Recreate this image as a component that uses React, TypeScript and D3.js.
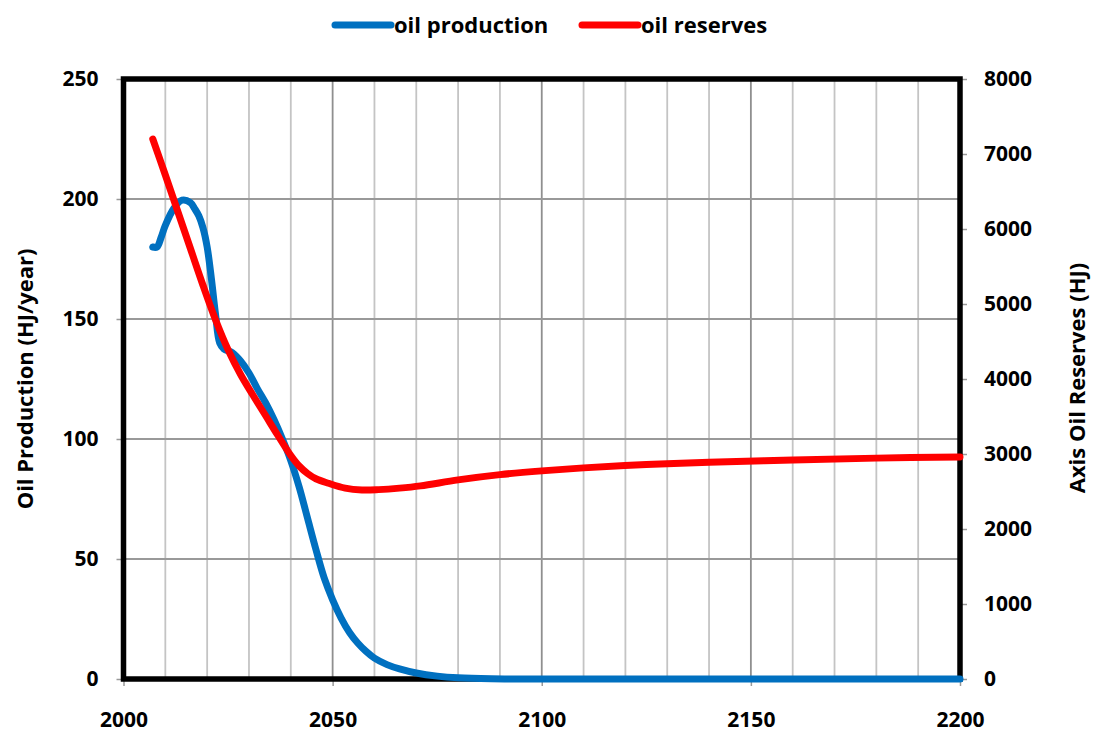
import * as d3 from 'd3';
import React, { useEffect, useRef } from 'react';

// years + values
const prodYears = [2007, 2008, 2009, 2010, 2012, 2014, 2016, 2017, 2018, 2019, 2020, 2021, 2022, 2023, 2024, 2026, 2028, 2030, 2032, 2034, 2036, 2038, 2040, 2042, 2044, 2046, 2048, 2050, 2052, 2054, 2056, 2058, 2060, 2063, 2066, 2070, 2075, 2080, 2088, 2100, 2150, 2200];
const prodValues = [180, 180, 184, 189, 196, 199.5, 198.5, 196, 193, 188, 180, 167, 152, 140, 137.5, 136, 132.5, 127.5, 121, 115, 108, 100, 91, 80, 67, 54, 42, 33, 25.5, 19.5, 15, 11.5, 8.7, 6, 4.2, 2.5, 1.2, 0.5, 0.1, 0, 0, 0];

const resYears = [2007, 2010, 2013, 2016, 2019, 2022, 2025, 2028, 2031, 2034, 2037, 2040, 2042, 2044, 2046, 2049, 2053, 2057, 2061, 2066, 2071, 2080, 2090, 2100, 2110, 2125, 2140, 2160, 2180, 2200];
const resValues = [7200, 6720, 6230, 5740, 5250, 4790, 4390, 4060, 3780, 3510, 3240, 2980, 2840, 2740, 2670, 2610, 2545, 2520, 2525, 2545, 2575, 2655, 2725, 2775, 2815, 2860, 2890, 2920, 2945, 2960];

const xTicks = [2000, 2050, 2100, 2150, 2200];
const leftTicks = [0, 50, 100, 150, 200, 250];
const rightTicks = [0, 1000, 2000, 3000, 4000, 5000, 6000, 7000, 8000];

const seriesNames = ['oil production', 'oil reserves'];
const seriesColors = ['#0070C0', '#FF0000'];

const W = 1095;
const H = 740;
const margin = { left: 123.5, right: W - 960, top: 79, bottom: H - 679 };
const FONT = '"Open Sans", Arial, sans-serif';

export default function App() {
  const ref = useRef<SVGSVGElement>(null);

  useEffect(() => {
    const svg = d3.select(ref.current);
    svg.selectAll('*').remove();

    const x = d3.scaleLinear().domain([2000, 2200]).range([margin.left, W - margin.right]);
    const yL = d3.scaleLinear().domain([0, 250]).range([H - margin.bottom, margin.top]);
    const yR = d3.scaleLinear().domain([0, 8000]).range([H - margin.bottom, margin.top]);

    // gridlines, every 10 years vertical, darker on the 50-year marks
    const grid = svg.append('g');
    grid
      .selectAll('line.v')
      .data(d3.range(2010, 2200, 10))
      .enter()
      .append('line')
      .attr('x1', (d) => x(d))
      .attr('x2', (d) => x(d))
      .attr('y1', yL(0))
      .attr('y2', yL(250))
      .attr('stroke', (d) => (d % 50 === 0 ? '#8f8f8f' : '#c4c4c4'))
      .attr('stroke-width', 1.8);
    grid
      .selectAll('line.h')
      .data([50, 100, 150, 200])
      .enter()
      .append('line')
      .attr('x1', x(2000))
      .attr('x2', x(2200))
      .attr('y1', (d) => yL(d))
      .attr('y2', (d) => yL(d))
      .attr('stroke', '#999')
      .attr('stroke-width', 1.8);

    // axes (ticks only, frame drawn separately)
    const styleAxis = (g: d3.Selection<SVGGElement, unknown, null, undefined>) => {
      g.select('.domain').remove();
      g.selectAll('.tick line').attr('stroke', '#999').attr('stroke-width', 1.5);
      g.selectAll('.tick text')
        .attr('fill', '#000')
        .style('font-family', FONT)
        .style('font-weight', 700)
        .style('font-size', '21px');
    };

    svg
      .append('g')
      .attr('transform', `translate(0,${yL(0)})`)
      .call(d3.axisBottom(x).tickValues(xTicks).tickFormat(d3.format('d')).tickSize(7).tickPadding(26))
      .call(styleAxis);

    svg
      .append('g')
      .attr('transform', `translate(${x(2000)},0)`)
      .call(d3.axisLeft(yL).tickValues(leftTicks).tickSize(7).tickPadding(18))
      .call(styleAxis);

    svg
      .append('g')
      .attr('transform', `translate(${x(2200)},0)`)
      .call(d3.axisRight(yR).tickValues(rightTicks).tickFormat(d3.format('d')).tickSize(7).tickPadding(17))
      .call(styleAxis);

    // thick black frame
    svg
      .append('rect')
      .attr('x', x(2000))
      .attr('y', yL(250))
      .attr('width', x(2200) - x(2000))
      .attr('height', yL(0) - yL(250))
      .attr('fill', 'none')
      .attr('stroke', '#000')
      .attr('stroke-width', 5.5);

    const prodLine = d3
      .line<number>()
      .x((_d, i) => x(prodYears[i]))
      .y((d) => yL(d))
      .curve(d3.curveCatmullRom.alpha(0.5));
    const resLine = d3
      .line<number>()
      .x((_d, i) => x(resYears[i]))
      .y((d) => yR(d))
      .curve(d3.curveCatmullRom.alpha(0.5));

    svg
      .append('path')
      .attr('d', prodLine(prodValues))
      .attr('fill', 'none')
      .attr('stroke', seriesColors[0])
      .attr('stroke-width', 7)
      .attr('stroke-linecap', 'round')
      .attr('stroke-linejoin', 'round');
    svg
      .append('path')
      .attr('d', resLine(resValues))
      .attr('fill', 'none')
      .attr('stroke', seriesColors[1])
      .attr('stroke-width', 7)
      .attr('stroke-linecap', 'round')
      .attr('stroke-linejoin', 'round');

    // axis titles
    svg
      .append('text')
      .attr('transform', `translate(33,379) rotate(-90)`)
      .attr('text-anchor', 'middle')
      .style('font-family', FONT)
      .style('font-weight', 700)
      .style('font-size', '22px')
      .text('Oil Production (HJ/year)');
    svg
      .append('text')
      .attr('transform', `translate(1085,378) rotate(-90)`)
      .attr('text-anchor', 'middle')
      .style('font-family', FONT)
      .style('font-weight', 700)
      .style('font-size', '22px')
      .text('Axis Oil Reserves (HJ)');

    // legend
    const legendX = [335, 582];
    const legend = svg
      .selectAll('g.legend')
      .data(seriesNames)
      .enter()
      .append('g')
      .attr('transform', (_d, i) => `translate(${legendX[i]},25)`);
    legend
      .append('line')
      .attr('x1', 0)
      .attr('x2', 56)
      .attr('stroke', (_d, i) => seriesColors[i])
      .attr('stroke-width', 7)
      .attr('stroke-linecap', 'round');
    legend
      .append('text')
      .attr('x', 59)
      .attr('dy', '0.35em')
      .style('font-family', FONT)
      .style('font-weight', 700)
      .style('font-size', '22px')
      .text((d) => d);
  }, []);

  return (
    <svg
      ref={ref}
      width={W}
      height={H}
      style={{ position: 'absolute', left: 0, top: 0, background: '#fff' }}
    ></svg>
  );
}
